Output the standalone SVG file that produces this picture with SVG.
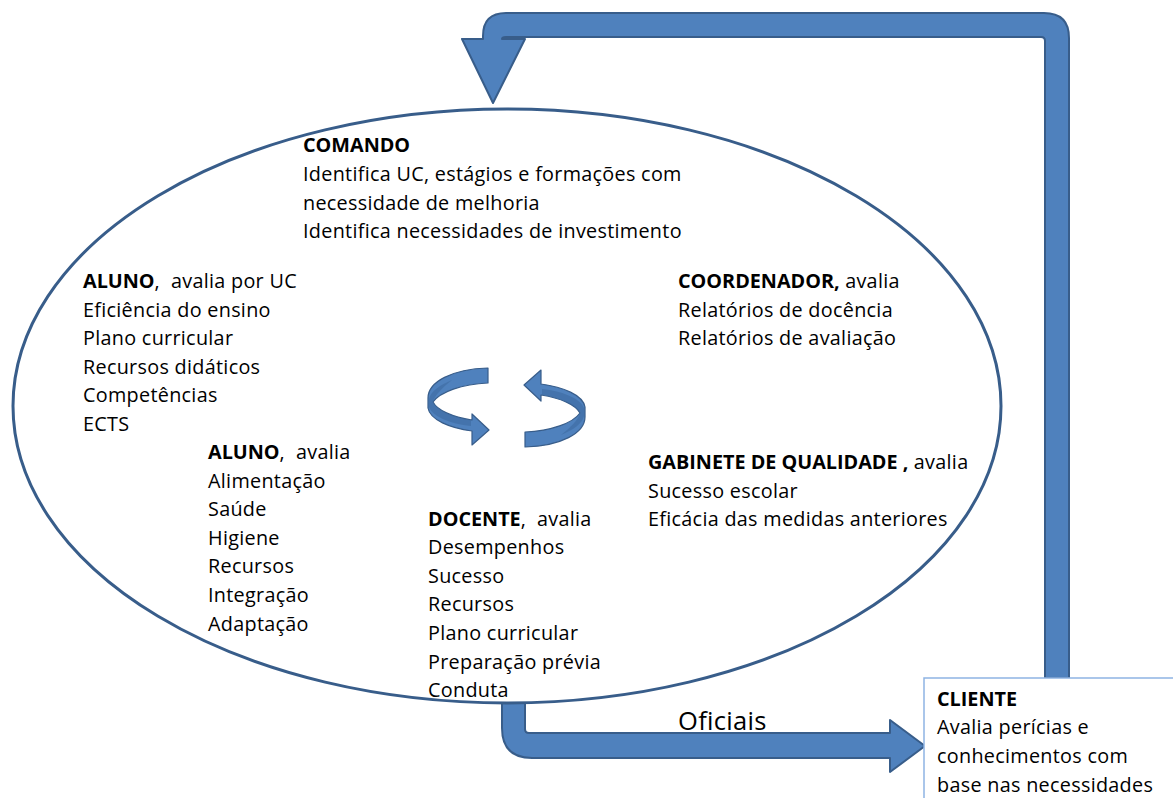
<svg xmlns="http://www.w3.org/2000/svg" width="1173" height="798" viewBox="0 0 1173 798">
<style>
.t{font-family:"Open Sans","Noto Sans","Liberation Sans",sans-serif;font-size:19.8px;letter-spacing:0.3px;fill:#000;white-space:pre}
.b{font-weight:bold;letter-spacing:0}
.arrow{fill:#4f81bd;stroke:#385d8a;stroke-width:2;stroke-linejoin:round}
.rib{fill:#4f81bd;stroke:#385d8a;stroke-width:1.2;stroke-linejoin:round}
.ribd{fill:#3d6aa0;stroke:none}
</style>
<defs>
<g id="curl">
<path class="rib" d="M488 368 C452 369 428 382 428 398 L428 408 C430 420 450 428 472 431 L472 445 L489 430 L472 414 L472 420 C452 417 437 410 433 402 C440 392 462 384 488 383 Z"/>
<path class="ribd" d="M429 399 C431 391 440 385 452 380 C442 388 435 395 433 402 C437 410 452 417 471 420 L471 426 C450 424 432 416 429 407 Z" opacity="0.6"/>
</g>
</defs>
<g id="connectors">
<path id="loop-arrow" class="arrow" d="M1045 678 L1045 41 Q1045 37 1041 37 L506 37 Q502 37 502 39 L525 39 L493 103 L462 39 L483 39 L483 36 Q483 13 506 13 L1044 13 Q1069 13 1069 38 L1069 678 Z"/>
<path id="oficiais-arrow" class="arrow" d="M502 700 L525 700 L525 729 Q525 733 529 733 L890 733 L890 720 L925 746 L890 772 L890 758 L532 758 Q502 758 502 728 Z"/>
<text class="t" x="678" y="730" style="font-size:25.5px">Oficiais</text>
</g>
<g id="cycle">
<ellipse cx="507" cy="406" rx="494" ry="297" fill="#fff" stroke="#385d8a" stroke-width="3"/>
<use href="#curl"/>
<use href="#curl" transform="rotate(180 506.5 407.5)"/>
</g>
<g id="comando">
<text class="t" x="303" y="152.3"><tspan class="b">COMANDO</tspan></text>
<text class="t" x="303" y="181">Identifica UC, estágios e formações com</text>
<text class="t" x="303" y="209.5">necessidade de melhoria</text>
<text class="t" x="303" y="238">Identifica necessidades de investimento</text>
</g>
<g id="aluno-uc">
<text class="t" x="83" y="288"><tspan class="b">ALUNO</tspan>,  avalia por UC</text>
<text class="t" x="83" y="316.6">Eficiência do ensino</text>
<text class="t" x="83" y="345.2">Plano curricular</text>
<text class="t" x="83" y="373.8">Recursos didáticos</text>
<text class="t" x="83" y="402.4">Competências</text>
<text class="t" x="83" y="431">ECTS</text>
</g>
<g id="coordenador">
<text class="t" x="678" y="288"><tspan class="b">COORDENADOR,</tspan> avalia</text>
<text class="t" x="678" y="316.6">Relatórios de docência</text>
<text class="t" x="678" y="345.2">Relatórios de avaliação</text>
</g>
<g id="aluno">
<text class="t" x="208" y="459"><tspan class="b">ALUNO</tspan>,  avalia</text>
<text class="t" x="208" y="487.6">Alimentação</text>
<text class="t" x="208" y="516.2">Saúde</text>
<text class="t" x="208" y="544.8">Higiene</text>
<text class="t" x="208" y="573.4">Recursos</text>
<text class="t" x="208" y="602">Integração</text>
<text class="t" x="208" y="630.6">Adaptação</text>
</g>
<g id="gabinete">
<text class="t" x="648" y="469"><tspan class="b">GABINETE DE QUALIDADE ,</tspan> avalia</text>
<text class="t" x="648" y="497.6">Sucesso escolar</text>
<text class="t" x="648" y="526.2">Eficácia das medidas anteriores</text>
</g>
<g id="docente">
<text class="t" x="428" y="525.5"><tspan class="b">DOCENTE</tspan>,  avalia</text>
<text class="t" x="428" y="554.1">Desempenhos</text>
<text class="t" x="428" y="582.7">Sucesso</text>
<text class="t" x="428" y="611.3">Recursos</text>
<text class="t" x="428" y="639.9">Plano curricular</text>
<text class="t" x="428" y="668.5">Preparação prévia</text>
<text class="t" x="428" y="697">Conduta</text>
</g>
<g id="cliente">
<rect x="924" y="678" width="260" height="130" fill="#fff" stroke="#8eb4e3" stroke-width="1.5"/>
<text class="t" x="937" y="705.5"><tspan class="b">CLIENTE</tspan></text>
<text class="t" x="937" y="734.2">Avalia perícias e</text>
<text class="t" x="937" y="762.9">conhecimentos com</text>
<text class="t" x="937" y="791.6">base nas necessidades</text>
</g>
</svg>
